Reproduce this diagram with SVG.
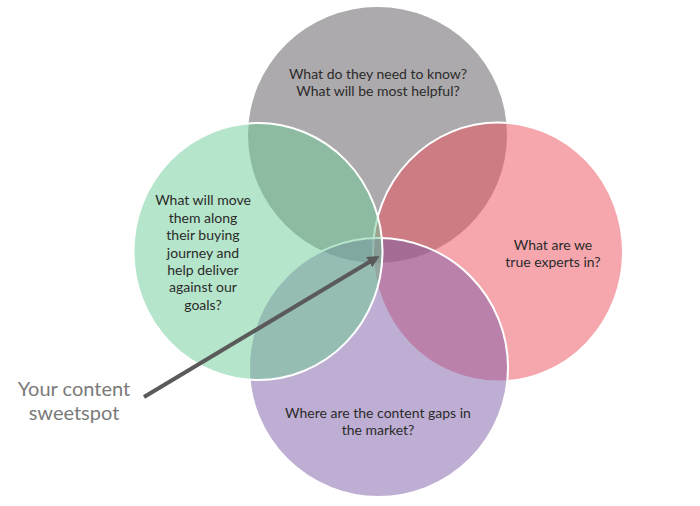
<svg xmlns="http://www.w3.org/2000/svg" width="700" height="506" viewBox="0 0 700 506">
<defs>
<style>
.c{fill-opacity:0.5;stroke:#fff;stroke-width:2}
.t{font-family:Lato,"Open Sans",sans-serif;font-size:14px;fill:#2b2b2b;text-anchor:middle}
.l{font-family:Lato,"Open Sans",sans-serif;font-size:20px;fill:#7a7a7a;text-anchor:middle}
</style>
<marker id="ah" markerWidth="12" markerHeight="12" refX="8" refY="6" orient="auto" markerUnits="userSpaceOnUse" viewBox="0 0 12 12">
<path d="M0,0 L12,6 L0,12 z" fill="#5a5a5a"/>
</marker>
</defs>
<rect width="700" height="506" fill="#fff"/>
<g id="gray">
<ellipse cx="377.5" cy="135" rx="129.5" ry="128" fill="#595559" fill-opacity="0.5"/>
<text class="t" x="378" y="79">What do they need to know?</text>
<text class="t" x="378" y="96">What will be most helpful?</text>
</g>
<g id="red">
<ellipse class="c" cx="498" cy="252" rx="125" ry="129.5" fill="#ED4D5B"/>
<text class="t" x="553" y="249.5">What are we</text>
<text class="t" x="553" y="267">true experts in?</text>
</g>
<g id="purple">
<ellipse class="c" cx="378.5" cy="367.5" rx="129.5" ry="129.5" fill="#7D5DA7"/>
<text class="t" x="378" y="417.5">Where are the content gaps in</text>
<text class="t" x="378" y="435">the market?</text>
</g>
<g id="green">
<ellipse class="c" cx="258" cy="251.5" rx="124.5" ry="128.5" fill="#6BCB95"/>
<text class="t" x="203" y="205">What will move</text>
<text class="t" x="203" y="222.5">them along</text>
<text class="t" x="203" y="240">their buying</text>
<text class="t" x="203" y="257.5">journey and</text>
<text class="t" x="203" y="275">help deliver</text>
<text class="t" x="203" y="292">against our</text>
<text class="t" x="203" y="309.5">goals?</text>
</g>
<g id="connectors">
<line x1="144" y1="397" x2="376" y2="258" stroke="#5a5a5a" stroke-width="4" marker-end="url(#ah)"/>
</g>
<g id="label">
<text class="l" x="74" y="396">Your content</text>
<text class="l" x="74" y="419.5">sweetspot</text>
</g>
</svg>
